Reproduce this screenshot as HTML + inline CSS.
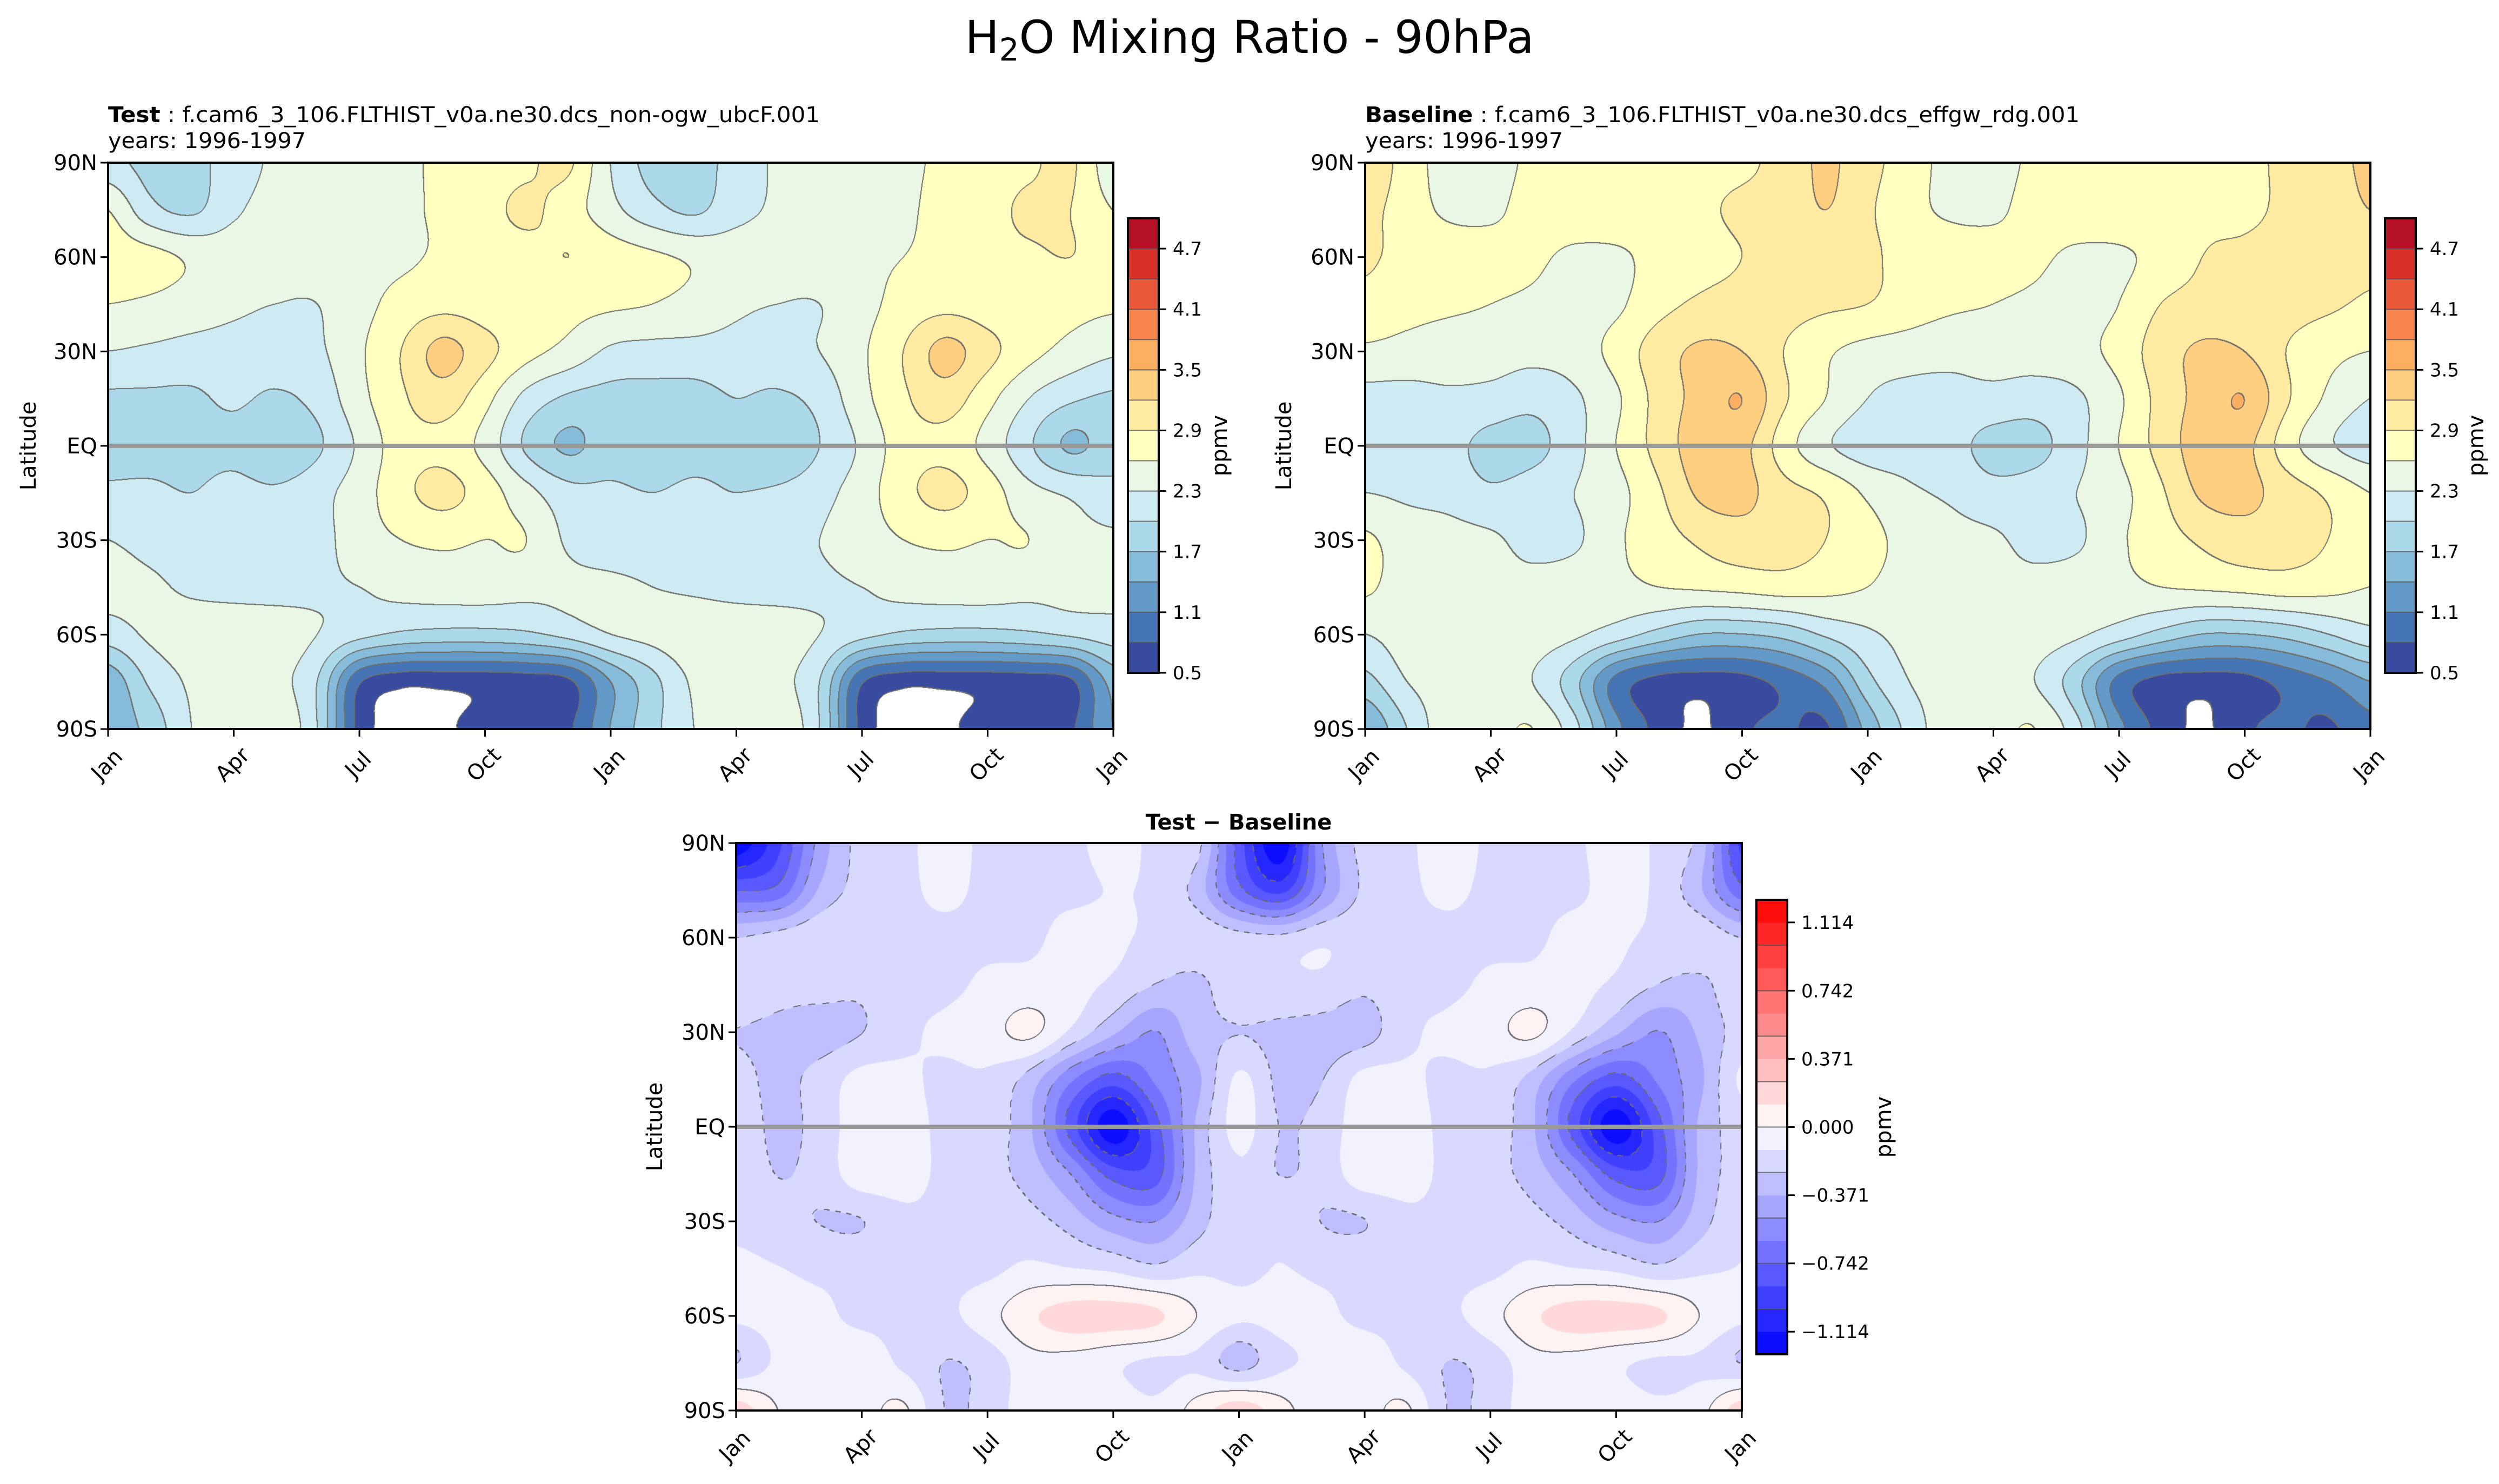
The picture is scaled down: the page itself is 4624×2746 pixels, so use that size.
<!DOCTYPE html>
<html><head><meta charset="utf-8"><title>H2O Mixing Ratio - 90hPa</title>
<style>
html,body{margin:0;padding:0;background:#fff;}
#root{position:relative;width:4624px;height:2746px;overflow:hidden;background:#fff;font-family:"DejaVu Sans","Liberation Sans",sans-serif;}
canvas{position:absolute;display:block;}
svg{position:absolute;left:0;top:0;}
</style></head>
<body>
<div id="root">
<canvas id="c1" style="left:200px;top:301px" width="1860" height="1048"></canvas>
<canvas id="c2" style="left:2526px;top:301px" width="1860" height="1048"></canvas>
<canvas id="c3" style="left:1362px;top:1560px" width="1861" height="1050"></canvas>
<svg id="ov" width="4624" height="2746"></svg>
</div>
<script>
// ---------- DATA ----------
const latitudes = [90,75,60,45,30,15,0,-15,-30,-45,-60,-75,-90];
const monthTickLabels = ["Jan","Apr","Jul","Oct","Jan","Apr","Jul","Oct","Jan"];
const latTickLabels = ["90N","60N","30N","EQ","30S","60S","90S"];
const latTickValues = [90,60,30,0,-30,-60,-90];
const testLevels = [0.5,0.8,1.1,1.4,1.7,2.0,2.3,2.6,2.9,3.2,3.5,3.8,4.1,4.4,4.7,5.0];
const testTickLabels = ["0.5","1.1","1.7","2.3","2.9","3.5","4.1","4.7"];
const testTickValues = [0.5,1.1,1.7,2.3,2.9,3.5,4.1,4.7];
const diffTickLabels = ["\u22121.114","\u22120.742","\u22120.371","0.000","0.371","0.742","1.114"];
const diffTickValues = [-1.114,-0.742,-0.371,0,0.371,0.742,1.114];
const diffLineLevels = [-0.99,-0.742,-0.495,-0.247,0,0.247,0.495,0.742,0.99];

const testGrid = [
[2.1,1.9,1.9,2.15,2.35,2.45,2.5,2.55,2.65,2.75,2.85,2.95,2.3,1.9,1.9,2.1,2.35,2.45,2.5,2.55,2.65,2.75,2.85,2.95,2.4],
[2.6,2.1,1.95,2.25,2.4,2.45,2.5,2.55,2.65,2.8,2.95,2.75,2.4,2.1,1.95,2.2,2.35,2.45,2.5,2.55,2.7,2.8,2.95,2.9,2.6],
[2.75,2.7,2.55,2.45,2.45,2.45,2.5,2.55,2.65,2.75,2.8,2.9,2.75,2.65,2.55,2.45,2.45,2.5,2.55,2.6,2.7,2.8,2.85,2.9,2.75],
[2.6,2.55,2.45,2.35,2.3,2.3,2.5,2.7,2.8,2.75,2.7,2.7,2.65,2.6,2.5,2.35,2.3,2.3,2.5,2.7,2.8,2.75,2.7,2.7,2.65],
[2.3,2.25,2.2,2.2,2.2,2.25,2.55,2.9,3.3,3.0,2.7,2.5,2.25,2.2,2.2,2.2,2.2,2.3,2.55,2.9,3.3,3.0,2.7,2.5,2.35],
[1.95,1.95,1.95,2.05,1.95,2.1,2.5,2.85,3.05,2.7,2.2,1.95,1.9,1.9,1.9,2.0,1.95,2.1,2.5,2.85,3.05,2.7,2.3,2.05,1.95],
[1.9,1.9,1.9,1.9,1.72,1.95,2.35,2.75,2.8,2.5,1.95,1.65,1.85,1.85,1.9,1.9,1.72,2.0,2.35,2.75,2.8,2.5,2.05,1.65,1.85],
[2.05,2.05,2.0,2.1,2.05,2.2,2.45,2.8,3.0,2.75,2.4,2.1,2.05,2.0,2.05,2.0,2.05,2.2,2.45,2.8,3.0,2.75,2.4,2.25,2.1],
[2.3,2.2,2.15,2.15,2.15,2.2,2.45,2.6,2.65,2.6,2.6,2.25,2.15,2.15,2.15,2.15,2.2,2.3,2.45,2.6,2.65,2.6,2.6,2.4,2.35],
[2.4,2.35,2.25,2.2,2.2,2.25,2.3,2.4,2.45,2.45,2.4,2.35,2.35,2.3,2.25,2.2,2.2,2.25,2.3,2.4,2.45,2.45,2.4,2.4,2.4],
[2.15,2.35,2.45,2.5,2.45,2.3,2.1,1.95,1.9,1.9,1.95,2.1,2.3,2.4,2.5,2.5,2.45,2.3,2.1,1.95,1.9,1.9,1.95,2.05,2.15],
[1.5,2.05,2.35,2.45,2.4,2.0,0.85,0.6,0.6,0.62,0.65,0.75,1.4,1.9,2.35,2.45,2.4,2.0,0.85,0.6,0.6,0.62,0.65,0.75,1.5],
[1.5,1.8,2.3,2.45,2.55,2.0,0.7,0.38,0.45,0.6,0.65,0.75,1.4,1.9,2.3,2.45,2.55,2.0,0.7,0.38,0.45,0.6,0.65,0.75,1.4]
];
const baseGrid = [
[3.2,2.75,2.5,2.5,2.65,2.7,2.75,2.8,2.85,2.85,3.0,3.25,3.0,2.75,2.5,2.5,2.65,2.7,2.75,2.8,2.85,2.85,2.95,3.1,3.25],
[3.0,2.75,2.55,2.55,2.7,2.75,2.8,2.8,2.85,2.95,3.0,3.2,2.95,2.7,2.55,2.55,2.7,2.75,2.8,2.8,2.85,2.85,2.95,3.05,3.2],
[2.95,2.8,2.75,2.7,2.65,2.55,2.55,2.7,2.8,2.9,3.0,3.0,2.95,2.8,2.75,2.7,2.65,2.55,2.55,2.7,2.9,2.95,3.0,3.05,3.0],
[2.8,2.7,2.65,2.6,2.55,2.5,2.55,2.8,2.95,3.0,3.0,2.95,2.9,2.75,2.65,2.6,2.55,2.5,2.6,2.9,3.0,3.0,3.0,2.95,2.85],
[2.55,2.5,2.45,2.45,2.4,2.45,2.7,3.05,3.25,3.2,2.9,2.65,2.5,2.45,2.4,2.45,2.45,2.5,2.7,3.05,3.25,3.2,2.9,2.7,2.6],
[2.2,2.2,2.25,2.2,2.1,2.25,2.55,3.0,3.3,3.5,2.95,2.6,2.3,2.2,2.2,2.2,2.15,2.25,2.55,3.0,3.3,3.5,2.95,2.55,2.3],
[2.15,2.15,2.1,1.9,1.9,2.2,2.6,3.0,3.35,3.3,2.75,2.35,2.15,2.15,2.1,1.9,1.9,2.2,2.6,3.0,3.35,3.3,2.75,2.35,2.15],
[2.3,2.25,2.2,2.05,2.15,2.3,2.5,2.85,3.25,3.3,3.0,2.85,2.55,2.35,2.25,2.1,2.15,2.3,2.5,2.85,3.25,3.3,3.05,2.85,2.6],
[2.65,2.45,2.4,2.35,2.2,2.25,2.55,2.75,2.95,3.05,3.0,2.9,2.7,2.5,2.4,2.35,2.2,2.25,2.55,2.75,2.95,3.05,3.0,2.9,2.7],
[2.65,2.45,2.4,2.4,2.4,2.45,2.5,2.6,2.65,2.7,2.75,2.7,2.6,2.45,2.4,2.4,2.4,2.45,2.5,2.6,2.65,2.7,2.75,2.7,2.6],
[2.3,2.45,2.5,2.5,2.45,2.35,2.15,1.9,1.7,1.7,1.8,2.05,2.25,2.4,2.5,2.5,2.45,2.35,2.15,1.9,1.7,1.7,1.8,2.0,2.2],
[1.9,2.3,2.45,2.45,2.3,1.8,1.0,0.7,0.65,0.7,0.9,1.2,1.9,2.3,2.45,2.45,2.3,1.8,1.0,0.7,0.65,0.7,0.9,1.1,1.4],
[1.4,2.0,2.5,2.5,2.6,2.1,1.2,0.7,0.45,0.75,0.85,0.75,1.5,2.1,2.5,2.5,2.6,2.1,1.2,0.7,0.45,0.75,0.85,0.75,1.0]
];
const diffGrid = [
[-1.2,-0.9,-0.45,-0.2,-0.15,-0.08,-0.15,-0.15,-0.15,-0.08,-0.15,-0.2,-0.8,-1.2,-0.5,-0.2,-0.15,-0.05,-0.15,-0.15,-0.15,-0.05,-0.15,-0.3,-0.9],
[-0.75,-0.7,-0.35,-0.2,-0.15,-0.1,-0.15,-0.15,-0.15,-0.12,-0.15,-0.3,-0.7,-0.9,-0.5,-0.22,-0.15,-0.1,-0.15,-0.15,-0.15,-0.08,-0.15,-0.35,-0.7],
[-0.25,-0.2,-0.15,-0.15,-0.15,-0.15,-0.15,-0.15,-0.08,-0.1,-0.15,-0.15,-0.2,-0.22,-0.15,-0.15,-0.15,-0.15,-0.15,-0.15,-0.08,-0.1,-0.15,-0.15,-0.25],
[-0.15,-0.2,-0.2,-0.22,-0.15,-0.15,-0.1,-0.08,-0.08,-0.15,-0.25,-0.28,-0.15,-0.15,-0.15,-0.22,-0.15,-0.15,-0.1,-0.08,-0.08,-0.15,-0.25,-0.28,-0.15],
[-0.25,-0.28,-0.3,-0.25,-0.15,-0.1,-0.05,0.03,-0.15,-0.35,-0.5,-0.3,-0.25,-0.28,-0.3,-0.3,-0.15,-0.1,-0.05,0.03,-0.15,-0.35,-0.5,-0.35,-0.2],
[-0.2,-0.28,-0.2,-0.08,-0.1,-0.15,-0.15,-0.3,-0.6,-0.8,-0.6,-0.4,-0.1,-0.28,-0.25,-0.08,-0.1,-0.15,-0.15,-0.3,-0.6,-0.8,-0.6,-0.4,-0.1],
[-0.15,-0.28,-0.2,-0.05,-0.08,-0.15,-0.18,-0.35,-0.8,-1.2,-0.8,-0.35,-0.08,-0.25,-0.2,-0.05,-0.08,-0.15,-0.18,-0.35,-0.8,-1.2,-0.8,-0.35,-0.2],
[-0.15,-0.25,-0.2,-0.05,-0.08,-0.15,-0.2,-0.3,-0.5,-0.8,-0.8,-0.35,-0.15,-0.25,-0.2,-0.05,-0.08,-0.15,-0.2,-0.3,-0.5,-0.8,-0.8,-0.35,-0.2],
[-0.15,-0.2,-0.25,-0.25,-0.15,-0.15,-0.15,-0.2,-0.3,-0.45,-0.5,-0.3,-0.15,-0.15,-0.25,-0.25,-0.15,-0.15,-0.15,-0.2,-0.3,-0.45,-0.5,-0.3,-0.15],
[-0.1,-0.12,-0.15,-0.15,-0.15,-0.15,-0.15,-0.1,-0.12,-0.15,-0.22,-0.15,-0.15,-0.12,-0.15,-0.15,-0.15,-0.15,-0.15,-0.1,-0.12,-0.15,-0.22,-0.15,-0.12],
[-0.1,-0.08,-0.1,-0.15,-0.15,-0.15,-0.05,0.1,0.18,0.18,0.15,0.0,-0.1,-0.08,-0.1,-0.15,-0.15,-0.15,-0.05,0.1,0.18,0.18,0.15,0.0,-0.1],
[-0.25,-0.1,-0.1,-0.05,-0.15,-0.25,-0.2,-0.05,-0.05,-0.1,-0.15,-0.15,-0.3,-0.15,-0.1,-0.05,-0.15,-0.25,-0.2,-0.05,-0.05,-0.1,-0.15,-0.15,-0.25],
[0.2,0.0,-0.08,-0.05,0.02,-0.25,-0.2,-0.05,-0.05,-0.05,-0.1,0.05,0.2,0.05,-0.08,-0.05,0.02,-0.25,-0.2,-0.05,-0.05,-0.05,-0.1,-0.05,0.2]
];

// ---------- COLOR ----------
const rdylbu = [[49,54,149],[69,117,180],[116,173,209],[171,217,233],[224,243,248],[255,255,191],[254,224,144],[253,174,97],[244,109,67],[215,48,39],[165,0,38]];
function rdylbuR(t){t=Math.max(0,Math.min(1,t));const p=t*10,i=Math.min(9,Math.floor(p)),f=p-i,a=rdylbu[i],b=rdylbu[i+1];return [a[0]+(b[0]-a[0])*f,a[1]+(b[1]-a[1])*f,a[2]+(b[2]-a[2])*f];}
const testColors = [];
for(let i=0;i<15;i++){testColors.push(rdylbuR((i+0.5)/15));}
const D0=-1.237, DSTEP=0.1237, DN=20;
const diffColors=[];
for(let i=0;i<DN;i++){const m=D0+(i+0.5)*DSTEP;const t=m/1.237;diffColors.push(t<0?[255*(1+t),255*(1+t),255]:[255,255*(1-t),255*(1-t)]);}

function testBand(v){if(v<0.5)return -1;return Math.min(14,Math.floor((v-0.5)/0.3));}
function diffBand(v){return Math.max(0,Math.min(DN-1,Math.floor((v-D0)/DSTEP)));}
function diffLineBand(v){let k=0;for(const l of diffLineLevels){if(v>=l)k++;}return k;}

// ---------- FIELD RENDER ----------
function crw(f){const f2=f*f,f3=f2*f;return [(-f3+2*f2-f)/2,(3*f3-5*f2+2)/2,(-3*f3+4*f2+f)/2,(f3-f2)/2];}
function renderField(canvas,grid,bandFn,colors,lineFn,lineCol,dashNeg){
  const W=canvas.width,H=canvas.height,ny=grid.length,nx=grid[0].length;
  const tmp=[];
  for(let r=0;r<ny;r++){const row=new Float32Array(W);
    for(let x=0;x<W;x++){const gx=x/(W-1)*(nx-1);let i=Math.min(nx-2,Math.floor(gx));const w=crw(gx-i);let s=0;
      for(let k=0;k<4;k++){const ii=Math.max(0,Math.min(nx-1,i-1+k));s+=w[k]*grid[r][ii];}row[x]=s;}
    tmp.push(row);}
  const val=new Float32Array(W*H);
  for(let y=0;y<H;y++){const gy=y/(H-1)*(ny-1);let j=Math.min(ny-2,Math.floor(gy));const w=crw(gy-j);
    const rows=[0,1,2,3].map(k=>tmp[Math.max(0,Math.min(ny-1,j-1+k))]);
    for(let x=0;x<W;x++){val[y*W+x]=w[0]*rows[0][x]+w[1]*rows[1][x]+w[2]*rows[2][x]+w[3]*rows[3][x];}}
  const band=new Int8Array(W*H),lb=new Int8Array(W*H);
  for(let p=0;p<W*H;p++){band[p]=bandFn(val[p]);lb[p]=lineFn(val[p]);}
  const ctx=canvas.getContext('2d');const img=ctx.createImageData(W,H);const d=img.data;
  for(let y=0;y<H;y++)for(let x=0;x<W;x++){const p=y*W+x;let c;const b=band[p];
    c=b<0?[255,255,255]:colors[b];
    const l=lb[p];
    let isLine=(x+2<W&&lb[p+2]!==l)||(y+2<H&&lb[p+2*W]!==l);
    if(isLine&&dashNeg&&val[p]<-0.05&&(Math.floor((x+y)/12)%2===1))isLine=false;
    if(isLine)c=lineCol;
    d[p*4]=c[0];d[p*4+1]=c[1];d[p*4+2]=c[2];d[p*4+3]=255;}
  ctx.putImageData(img,0,0);
}
renderField(document.getElementById('c1'),testGrid,testBand,testColors,testBand,[110,110,105],false);
renderField(document.getElementById('c2'),baseGrid,testBand,testColors,testBand,[110,110,105],false);
renderField(document.getElementById('c3'),diffGrid,diffBand,diffColors,diffLineBand,[105,105,115],true);

// ---------- SVG OVERLAY ----------
const NS='http://www.w3.org/2000/svg';
const svg=document.getElementById('ov');
function mk(tag,attrs,parent){const e=document.createElementNS(NS,tag);for(const k in attrs)e.setAttribute(k,attrs[k]);(parent||svg).appendChild(e);return e;}

function drawAxes(ax){
  const g=mk('g',{});
  
  
  const xs=m=>ax.x0+(m/24)*(ax.x1-ax.x0);
  const ys=lat=>ax.y0+((90-lat)/180)*(ax.y1-ax.y0);
  const eq=mk('line',{x1:ax.x0,x2:ax.x1,y1:ys(0),y2:ys(0),stroke:'#999999','stroke-width':8},g);
  
  
  const fr=mk('rect',{x:ax.x0,y:ax.y0,width:ax.x1-ax.x0,height:ax.y1-ax.y0,fill:'none',stroke:'#000','stroke-width':4},g);
  
  
  monthTickLabels.forEach((lab,i)=>{const x=xs(i*3);
    mk('line',{x1:x,x2:x,y1:ax.y1,y2:ax.y1+14,stroke:'#000','stroke-width':3},g);
    const t=mk('text',{x:0,y:0,transform:`translate(${x-2},${ax.y1+66}) rotate(-45)`,'text-anchor':'middle','dominant-baseline':'central','font-size':40,fill:'#000'},g);
    t.textContent=lab;
    
    });
  latTickValues.forEach((v,i)=>{const y=ys(v);
    mk('line',{x1:ax.x0-14,x2:ax.x0,y1:y,y2:y,stroke:'#000','stroke-width':3},g);
    const t=mk('text',{x:ax.x0-20,y:y+14,'text-anchor':'end','font-size':40,fill:'#000'},g);
    t.textContent=latTickLabels[i];
    
    });
  const yl=mk('text',{x:0,y:0,transform:`translate(${ax.ylabX},${(ax.y0+ax.y1)/2}) rotate(-90)`,'text-anchor':'middle','dominant-baseline':'central','font-size':40,fill:'#000'},g);
  yl.textContent='Latitude';
  
  
}
drawAxes({name:'test',x0:200,x1:2060,y0:301,y1:1349,ylabX:53});
drawAxes({name:'baseline',x0:2526,x1:4386,y0:301,y1:1349,ylabX:2376});
drawAxes({name:'difference',x0:1362,x1:3223,y0:1560,y1:2610,ylabX:1212});

function drawColorbar(cb){
  const g=mk('g',{});
  
  
  const vs=v=>cb.y1-(v-cb.vmin)/(cb.vmax-cb.vmin)*(cb.y1-cb.y0);
  cb.levels.forEach((lv,i)=>{if(i===cb.levels.length-1)return;const a=vs(cb.levels[i+1]),b=vs(lv);const c=cb.colors[i];
    const r=mk('rect',{x:cb.x0,y:a,width:cb.x1-cb.x0,height:b-a+0.5,fill:`rgb(${c.map(Math.round).join(',')})`},g);
    
    });
  cb.sepLevels.forEach(v=>{const y=vs(v);mk('line',{x1:cb.x0,x2:cb.x1,y1:y,y2:y,stroke:'#555','stroke-width':2,opacity:0.8},g);});
  mk('rect',{x:cb.x0,y:cb.y0,width:cb.x1-cb.x0,height:cb.y1-cb.y0,fill:'none',stroke:'#000','stroke-width':4},g);
  cb.tickValues.forEach((v,i)=>{const y=vs(v);
    mk('line',{x1:cb.x1,x2:cb.x1+14,y1:y,y2:y,stroke:'#000','stroke-width':3},g);
    const t=mk('text',{x:cb.x1+26,y:y+12,'font-size':34,fill:'#000'},g);
    t.textContent=cb.tickLabels[i];
    
    });
  const l=mk('text',{x:0,y:0,transform:`translate(${cb.labX},${(cb.y0+cb.y1)/2}) rotate(-90)`,'text-anchor':'middle','dominant-baseline':'central','font-size':40,fill:'#000'},g);
  l.textContent='ppmv';
  
  
}
const diffLevels=[];for(let i=0;i<=DN;i++)diffLevels.push(D0+i*DSTEP);
drawColorbar({name:'test-colorbar',x0:2087,x1:2144,y0:404,y1:1245,vmin:0.5,vmax:5.0,levels:testLevels,colors:testColors,sepLevels:testLevels.slice(1,-1),tickValues:testTickValues,tickLabels:testTickLabels,labX:2257});
drawColorbar({name:'baseline-colorbar',x0:4413,x1:4470,y0:404,y1:1245,vmin:0.5,vmax:5.0,levels:testLevels,colors:testColors,sepLevels:testLevels.slice(1,-1),tickValues:testTickValues,tickLabels:testTickLabels,labX:4582});
drawColorbar({name:'difference-colorbar',x0:3250,x1:3307,y0:1665,y1:2506,vmin:D0,vmax:-D0,levels:diffLevels,colors:diffColors,sepLevels:diffLineLevels,tickValues:diffTickValues,tickLabels:diffTickLabels,labX:3486});

function txt(attrs,html,name){const t=mk('text',attrs);t.innerHTML=html;return t;}
txt({x:2312,y:98,'text-anchor':'middle','font-size':84,fill:'#000'},'H<tspan font-size="58" dy="14">2</tspan><tspan dy="-14">O Mixing Ratio - 90hPa</tspan>','figure-title');
txt({x:200,y:226,'font-size':40,fill:'#000',textLength:1317,lengthAdjust:'spacingAndGlyphs'},'<tspan font-weight="bold">Test</tspan> : f.cam6_3_106.FLTHIST_v0a.ne30.dcs_non-ogw_ubcF.001','test-title');
txt({x:200,y:274,'font-size':40,fill:'#000',textLength:366,lengthAdjust:'spacingAndGlyphs'},'years: 1996-1997','test-years');
txt({x:2526,y:226,'font-size':40,fill:'#000',textLength:1322,lengthAdjust:'spacingAndGlyphs'},'<tspan font-weight="bold">Baseline</tspan> : f.cam6_3_106.FLTHIST_v0a.ne30.dcs_effgw_rdg.001','baseline-title');
txt({x:2526,y:274,'font-size':40,fill:'#000',textLength:366,lengthAdjust:'spacingAndGlyphs'},'years: 1996-1997','baseline-years');
txt({x:2292,y:1535,'text-anchor':'middle','font-size':40,'font-weight':'bold',fill:'#000'},'Test \u2212 Baseline','difference-title');
</script>
</body></html>
